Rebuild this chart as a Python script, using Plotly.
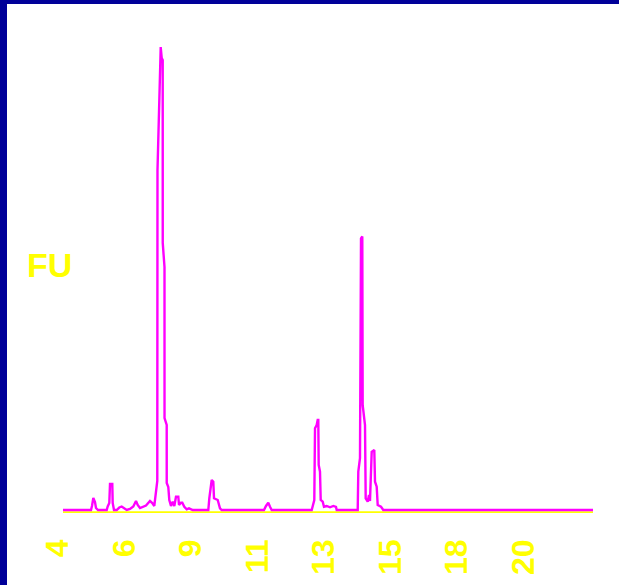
import plotly.graph_objects as go

# Migration time (s) and fluorescence (FU)
time_s = [4.175, 5.158, 5.193, 5.239, 5.298, 5.333, 5.404, 5.709, 5.744, 5.800,
          5.825, 5.905, 5.919, 5.965, 6.060, 6.151, 6.235, 6.316, 6.411, 6.526,
          6.642, 6.737, 6.796, 6.877, 6.972, 7.088, 7.228, 7.309, 7.379, 7.439,
          7.484, 7.491, 7.579, 7.604, 7.639, 7.674, 7.675, 7.737, 7.738, 7.814,
          7.815, 7.870, 7.905, 7.965, 8.025, 8.081, 8.140, 8.221, 8.246, 8.316,
          8.361, 8.432, 8.516, 8.596, 8.726, 9.274, 9.309, 9.393, 9.449, 9.474,
          9.604, 9.684, 9.744, 11.228, 11.298, 11.379, 11.439, 11.498, 12.902, 12.958,
          12.993, 13.018, 13.077, 13.112, 13.133, 13.147, 13.193, 13.218, 13.288, 13.333,
          13.428, 13.544, 13.660, 13.754, 13.779, 14.516, 14.537, 14.596, 14.632, 14.677,
          14.691, 14.772, 14.796, 14.867, 14.912, 14.947, 15.007, 15.098, 15.123, 15.182,
          15.218, 15.333, 15.414, 22.772]
fu = [0, 0, 0.87, 2.60, 1.73, 0.43, 0, 0, 0.76, 1.52,
      5.63, 5.63, 1.52, 0, 0, 0.54, 0.76, 0.43, 0, 0.22,
      0.76, 1.95, 1.08, 0.43, 0.65, 0.97, 1.95, 1.52, 0.87, 4.33,
      6.28, 73.6, 100.2, 100.2, 97.8, 97.4, 57.8, 52.6, 19.9, 18.4,
      5.84, 4.98, 2.16, 0.87, 1.80, 0.87, 2.88, 2.88, 1.08, 1.58,
      1.58, 0.71, 0.15, 0.37, 0, 0, 2.53, 6.49, 6.13, 2.53,
      2.16, 0.37, 0, 0, 0.87, 1.58, 0.71, 0, 0, 1.45,
      2.16, 17.7, 18.4, 19.5, 19.5, 9.74, 8.29, 2.16, 1.80, 0.71,
      0.87, 0.58, 0.87, 0.65, 0, 0, 8.29, 11.2, 58.8, 59.2,
      22.7, 18.4, 2.53, 1.80, 3.25, 1.95, 12.6, 13.0, 6.13, 5.04,
      1.08, 0.71, 0, 0]

tick_vals = [4, 6.333, 8.667, 11, 13.333, 15.667, 18, 20.333]
tick_text = ["4", "6", "9", "11", "13", "15", "18", "20"]
y_label = "FU"

W, H = 619, 585
ML, MR, MT, MB = 58, 9, 20, 72
PW, PH = W - ML - MR, H - MT - MB
SEC_PER_PX = 7 / 3 / 66.5
FU_PER_PX = 1 / 4.62

x_range = [4, 4 + PW * SEC_PER_PX]
y_range = [-3 * FU_PER_PX, -3 * FU_PER_PX + PH * FU_PER_PX]

BLUE = "#000099"
YELLOW = "#FFFF00"
MAGENTA = "#FF00FF"


def px_x(p):
    return (p - ML) / PW


def px_y(p):
    return (H - MB - p) / PH


fig = go.Figure()
fig.add_trace(go.Scatter(x=time_s, y=fu, mode="lines",
                         line=dict(color=MAGENTA, width=2.4),
                         hoverinfo="skip", showlegend=False))

shapes = [
    # yellow baseline axis spanning the data
    dict(type="line", xref="x", yref="y", x0=min(time_s), x1=max(time_s),
         y0=-0.5, y1=-0.5, line=dict(color=YELLOW, width=2), layer="below"),
    # dark blue frame edges
    dict(type="rect", xref="paper", yref="paper", x0=px_x(0), x1=px_x(7),
         y0=px_y(H), y1=px_y(0), fillcolor=BLUE, line=dict(width=0)),
    dict(type="rect", xref="paper", yref="paper", x0=px_x(0), x1=px_x(W),
         y0=px_y(4), y1=px_y(0), fillcolor=BLUE, line=dict(width=0)),
]

fig.update_layout(
    width=W, height=H,
    margin=dict(l=ML, r=MR, t=MT, b=MB, pad=0),
    paper_bgcolor="white", plot_bgcolor="white",
    shapes=shapes,
    xaxis=dict(range=x_range, showgrid=False, zeroline=False, showline=False,
               ticks="", tickvals=tick_vals, ticktext=tick_text, tickangle=-90,
               tickfont=dict(family="Liberation Sans", size=32, color=YELLOW,
                             weight="bold"),
               ticklabelstandoff=19, fixedrange=True),
    yaxis=dict(range=y_range, showgrid=False, zeroline=False, showline=False,
               showticklabels=False, ticks="", fixedrange=True),
    annotations=[dict(text=y_label, xref="paper", yref="paper",
                      x=px_x(49.5), y=px_y(265), xanchor="center", yanchor="middle",
                      showarrow=False,
                      font=dict(family="Liberation Sans", size=34, color=YELLOW,
                                weight="bold"))],
)

fig.write_html(
    "out.html",
    config={"displayModeBar": False},
    post_script="document.body.style.margin='0';document.body.style.overflow='hidden';",
)
